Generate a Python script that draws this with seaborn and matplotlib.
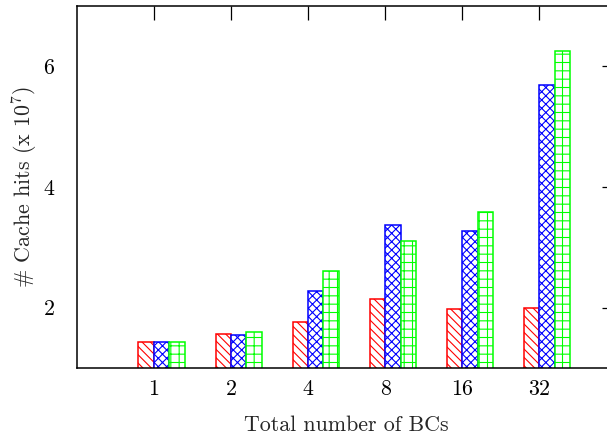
import matplotlib
matplotlib.use("Agg")
import matplotlib.pyplot as plt
import seaborn as sns
import pandas as pd

categories = ["1", "2", "4", "8", "16", "32"]
series_names = ["A", "B", "C"]
series_a = [1.43, 1.56, 1.76, 2.15, 1.98, 2.00]
series_b = [1.43, 1.55, 2.28, 3.37, 3.27, 5.68]
series_c = [1.43, 1.60, 2.60, 3.10, 3.59, 6.25]

rows = []
for name, vals in zip(series_names, [series_a, series_b, series_c]):
    for c, v in zip(categories, vals):
        rows.append({"BCs": c, "series": name, "hits": v})
df = pd.DataFrame(rows)

sns.set_style("white")
plt.rcParams["font.family"] = ["cmr10"]
plt.rcParams["mathtext.fontset"] = "cm"
plt.rcParams["axes.formatter.use_mathtext"] = True
plt.rcParams["hatch.linewidth"] = 0.8

fig = plt.figure(figsize=(6.07, 4.40), dpi=100)
ax = fig.add_axes([76.7 / 607, 1 - 368 / 440, (616.5 - 76.7) / 607, (368 - 5.5) / 440])

colors = ["#FF0000", "#0000FF", "#00FF00"]
hatches = ["\\\\\\\\", "xxxx", "++"]
sns.barplot(data=df, x="BCs", y="hits", hue="series", order=categories,
            hue_order=series_names, palette=colors, width=0.6, ax=ax,
            legend=False, errorbar=None, saturation=1)

for cont, col, h in zip(ax.containers, colors, hatches):
    for bar in cont:
        bar.set_facecolor("white")
        bar.set_edgecolor(col)
        bar.set_hatch(h)
        bar.set_linewidth(1.1)

ax.set_ylim(1, 7)
ax.set_xlim(-1.1, 5.9)
ax.set_xticks([i - 0.1 for i in range(len(categories))])
ax.set_xticklabels(categories)
ax.set_yticks([2, 4, 6])
ax.set_yticklabels(["2", "4", "6"])
ax.tick_params(direction="in", length=10, width=0.9, top=True, right=True,
               labelsize=15.8, colors="black")
ax.tick_params(axis="x", pad=8)
ax.tick_params(axis="y", pad=16)
for s in ax.spines.values():
    s.set_linewidth(1.1)
    s.set_color("black")
ax.set_xlabel("Total number of BCs", fontsize=15.8, labelpad=12)
ax.set_ylabel(r"# Cache hits (x 10$^7$)", fontsize=15.8, labelpad=3)

fig.savefig("out.png", dpi=100)
